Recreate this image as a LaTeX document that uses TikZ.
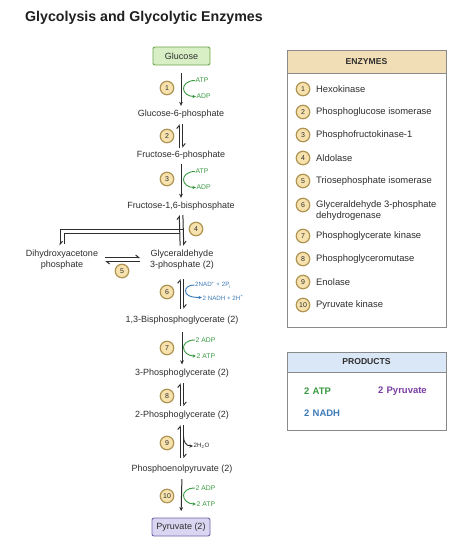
\documentclass[tikz,border=0pt]{standalone}
\usepackage{fontspec}
\setmainfont{Liberation Sans}
\usetikzlibrary{arrows.meta}
\definecolor{txt}{HTML}{2E2E2E}
\definecolor{arr}{HTML}{2E2E2E}
\definecolor{numfill}{HTML}{F7E2AE}
\definecolor{numdraw}{HTML}{B09453}
\definecolor{glcfill}{HTML}{D8EEC4}
\definecolor{glcdraw}{HTML}{6DA84E}
\definecolor{pyrfill}{HTML}{DAD5F0}
\definecolor{pyrdraw}{HTML}{7565A8}
\definecolor{enzhead}{HTML}{F2DEB6}
\definecolor{prohead}{HTML}{DAE7F6}
\definecolor{boxdraw}{HTML}{8A8A8A}
\definecolor{grn}{HTML}{3A9A42}
\definecolor{blu}{HTML}{3D7BB8}
\definecolor{pur}{HTML}{7A3FA3}
\begin{document}
\begin{tikzpicture}[x=1pt,y=-1pt,
  lbl/.style={font=\fontsize{9}{11}\selectfont, text=txt, inner sep=1pt, align=center, text height=7pt, text depth=2pt},
  lbl2/.style={font=\fontsize{9}{11}\selectfont, text=txt, inner sep=1pt, align=center},
  num/.style={circle, draw=numdraw, fill=numfill, line width=1.2pt, minimum size=13.5pt, inner sep=0pt, text=txt, font=\fontsize{7}{8}\selectfont},
  mainarr/.style={draw=arr, line width=1pt, -{Stealth[length=4pt,width=3.8pt]}},
  harp/.style={draw=arr, line width=1pt, -{Straight Barb[harpoon,length=3pt,width=5pt]}},
  plainln/.style={draw=arr, line width=1pt},
  side/.style={font=\fontsize{6.8}{8}\selectfont, inner sep=0.5pt, anchor=west},
  sidearr/.style={line width=0.9pt, -{Stealth[length=3.5pt,width=3.2pt]}},
  item/.style={font=\fontsize{9.4}{11}\selectfont, text=txt, anchor=west, inner sep=0pt, align=left},
  head/.style={font=\bfseries\fontsize{8.6}{10}\selectfont, text=txt}
]
\useasboundingbox (0,0) rectangle (474,551);
\fill[white] (0,0) rectangle (474,551);

% title
\node[anchor=west, font=\bfseries\fontsize{14.2}{16}\selectfont, text=black!88, inner sep=0pt] (title) at (25,18) {Glycolysis and Glycolytic Enzymes};

% metabolites
\node[draw=glcdraw, fill=glcfill, rounded corners=2pt, line width=0.9pt, minimum width=57pt, minimum height=18pt, font=\fontsize{9}{11}\selectfont, text=txt] (glc) at (181.5,56) {Glucose};
\node[lbl] (g6p) at (181,114) {Glucose-6-phosphate};
\node[lbl] (f6p) at (181,155) {Fructose-6-phosphate};
\node[lbl] (f16) at (181,206) {Fructose-1,6-bisphosphate};
\node[lbl2] (dhap) at (62,259.5) {Dihydroxyacetone\\phosphate};
\node[lbl2] (g3p) at (182,259.5) {Glyceraldehyde\\3-phosphate (2)};
\node[lbl] (bpg) at (182,320) {1,3-Bisphosphoglycerate (2)};
\node[lbl] (pg3) at (182,373) {3-Phosphoglycerate (2)};
\node[lbl] (pg2) at (182,415) {2-Phosphoglycerate (2)};
\node[lbl] (pep) at (182,469) {Phosphoenolpyruvate (2)};
\node[draw=pyrdraw, fill=pyrfill, rounded corners=2pt, line width=0.9pt, minimum width=58pt, minimum height=18pt, font=\fontsize{9}{11}\selectfont, text=txt] (pyr) at (181,527) {Pyruvate (2)};

% step numbers
\node[num] (n1) at (167,88) {1};
\node[num] (n2) at (167,136) {2};
\node[num] (n3) at (167,179) {3};
\node[num] (n4) at (196,229) {4};
\node[num] (n5) at (122,271) {5};
\node[num] (n6) at (167,292) {6};
\node[num] (n7) at (167,348) {7};
\node[num] (n8) at (167,396) {8};
\node[num] (n9) at (167,443) {9};
\node[num] (n10) at (167,496) {10};

% step 1
\draw[mainarr, shorten <=8pt, shorten >=2.5pt] (glc.south -| 181,0) -- (g6p.north -| 181,0);
\node[side, text=grn] (atp1) at (195,80.5) {ATP};
\node[side, text=grn] (adp1) at (196,96.5) {ADP};
\draw[grn, sidearr] (atp1.west) .. controls (187,80.5) and (183.5,85) .. (183.5,88.5) .. controls (183.5,93) and (188,96.5) .. (adp1.west);

% step 2
\draw[harp, shorten <=1.5pt, shorten >=4.5pt] ([xshift=-1.8pt]f6p.north) -- ([xshift=-1.8pt]g6p.south);
\draw[harp, shorten <=4.5pt, shorten >=1.5pt] ([xshift=1.8pt]g6p.south) -- ([xshift=1.8pt]f6p.north);

% step 3
\draw[mainarr, shorten <=3.5pt, shorten >=2.5pt] (f6p.south) -- (f16.north);
\node[side, text=grn] (atp3) at (195,171.5) {ATP};
\node[side, text=grn] (adp3) at (196,187.5) {ADP};
\draw[grn, sidearr] (atp3.west) .. controls (187,171.5) and (183.5,176) .. (183.5,179.5) .. controls (183.5,184) and (188,187.5) .. (adp3.west);

% step 4
\draw[harp, shorten <=3pt, shorten >=3.5pt] ([xshift=-1.8pt]g3p.north) -- ([xshift=-1.8pt]f16.south);
\draw[harp, shorten <=3.5pt, shorten >=3pt] ([xshift=1.8pt]f16.south) -- ([xshift=1.8pt]g3p.north);
\coordinate (br1) at (183.5,229);
\coordinate (br2) at (179.5,233);
\draw[harp, shorten >=3pt] (br1) -| ([xshift=-2pt]dhap.north);
\draw[plainln, shorten <=5pt] ([xshift=2pt]dhap.north) |- (br2);

% step 5
\draw[harp, shorten <=6pt, shorten >=9pt] ([yshift=2pt]dhap.east) -- ([yshift=2pt]g3p.west);
\draw[harp, shorten <=9pt, shorten >=6pt] ([yshift=-2pt]g3p.west) -- ([yshift=-2pt]dhap.east);

% step 6
\draw[harp, shorten <=5.5pt, shorten >=8.5pt] ([xshift=-1.8pt]bpg.north) -- ([xshift=-1.8pt]g3p.south);
\draw[harp, shorten <=8.5pt, shorten >=5.5pt] ([xshift=1.8pt]g3p.south) -- ([xshift=1.8pt]bpg.north);
\node[side, text=blu, font=\fontsize{6.2}{7}\selectfont] (nad) at (194.5,285) {2NAD\textsuperscript{+} + 2P\textsubscript{i}};
\node[side, text=blu, font=\fontsize{6.2}{7}\selectfont] (nadh) at (202,297.5) {2 NADH + 2H\textsuperscript{+}};
\draw[blu, sidearr] (nad.west) .. controls (188,285) and (185.5,288) .. (185.5,291) .. controls (185.5,295) and (190,297.5) .. (nadh.west);

% step 7
\draw[mainarr, shorten <=6.5pt, shorten >=3pt] (bpg.south) -- (pg3.north);
\node[side, text=grn] (adp7) at (195,340) {2 ADP};
\node[side, text=grn] (atp7) at (196,356) {2 ATP};
\draw[grn, sidearr] (adp7.west) .. controls (187,340) and (183.5,344) .. (183.5,347.5) .. controls (183.5,352) and (188,356) .. (atp7.west);

% step 8
\draw[harp, shorten <=3pt, shorten >=4.5pt] ([xshift=-1.8pt]pg2.north) -- ([xshift=-1.8pt]pg3.south);
\draw[harp, shorten <=4.5pt, shorten >=3pt] ([xshift=1.8pt]pg3.south) -- ([xshift=1.8pt]pg2.north);

% step 9
\draw[harp, shorten <=5pt, shorten >=4.5pt] ([xshift=-1.8pt]pep.north) -- ([xshift=-1.8pt]pg2.south);
\draw[harp, shorten <=4.5pt, shorten >=5pt] ([xshift=1.8pt]pg2.south) -- ([xshift=1.8pt]pep.north);
\node[side, text=txt, font=\fontsize{6.2}{7}\selectfont] (h2o) at (193,446) {2H\textsubscript{2}O};
\coordinate (w9) at (183.5,436);
\draw[arr, sidearr] (w9) .. controls (183.5,442) and (186,446) .. (h2o.west);

% step 10
\draw[mainarr, shorten <=4.5pt, shorten >=6.5pt] (pep.south) -- (pyr.north);
\node[side, text=grn] (adp10) at (195,488) {2 ADP};
\node[side, text=grn] (atp10) at (196,504) {2 ATP};
\draw[grn, sidearr] (adp10.west) .. controls (187,488) and (183.5,492) .. (183.5,495.5) .. controls (183.5,500) and (188,504) .. (atp10.west);

% enzymes box
\fill[enzhead] (287,50) rectangle (446,73);
\draw[boxdraw, line width=0.9pt] (287,73) -- (446,73);
\draw[boxdraw, line width=0.9pt] (287,50) rectangle (446,327);
\node[head] (enz) at (366.5,61.5) {ENZYMES};
\foreach \n/\y/\t in {1/89/Hexokinase, 2/112/Phosphoglucose isomerase, 3/135/Phosphofructokinase-1, 4/158/Aldolase, 5/181/Triosephosphate isomerase, 7/236/Phosphoglycerate kinase, 8/259/Phosphoglyceromutase, 9/282/Enolase, 10/305/Pyruvate kinase}{
  \node[num] (e\n) at (303,\y) {\n};
  \node[item] (t\n) at (316,\y) {\t};
}
\node[num] (e6) at (303,205) {6};
\node[item] (t6) at (316,210.5) {Glyceraldehyde 3-phosphate\\dehydrogenase};

% products box
\fill[prohead] (287,352) rectangle (446,372);
\draw[boxdraw, line width=0.9pt] (287,372) -- (446,372);
\draw[boxdraw, line width=0.9pt] (287,352) rectangle (446,430);
\node[head] (prod) at (366.5,362) {PRODUCTS};
\node[anchor=west, inner sep=0pt, text=grn, font=\bfseries\fontsize{9.5}{11}\selectfont] (patp) at (304,391) {2\,\,ATP};
\node[anchor=west, inner sep=0pt, text=pur, font=\bfseries\fontsize{9.5}{11}\selectfont] (ppyr) at (378,391) {2\,\,Pyruvate};
\node[anchor=west, inner sep=0pt, text=blu, font=\bfseries\fontsize{9.5}{11}\selectfont] (pnadh) at (304,413) {2\,\,NADH};
\end{tikzpicture}
\end{document}
